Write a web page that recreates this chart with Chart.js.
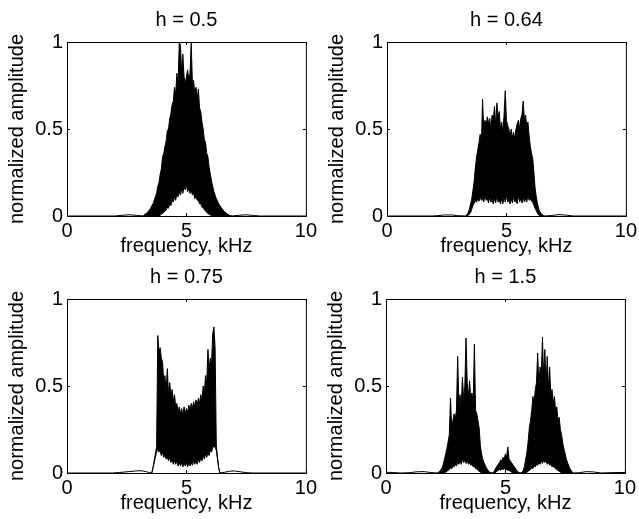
<!DOCTYPE html>
<html lang="en">

<head>
    <meta charset="UTF-8">
    <script src="https://cdn.jsdelivr.net/npm/chart.js"></script>
    <style>
        body { margin: 0; background: #fff; width: 639px; height: 519px; overflow: hidden; position: relative; }
        canvas { position: absolute; }
    </style>
</head>

<body>
    <canvas id="c1" width="320" height="262" style="left:0;top:0"></canvas>
    <canvas id="c2" width="320" height="262" style="left:320px;top:0"></canvas>
    <canvas id="c3" width="320" height="262" style="left:0;top:257px"></canvas>
    <canvas id="c4" width="320" height="262" style="left:319px;top:257px"></canvas>

    <script>
        // axis ticks
        const xTicks = [0, 5, 10];
        const yTicks = [0, 0.5, 1];
        const freqStep = 0.05; // kHz between band samples

        // h = 0.5
        const tailsLeft1 = [[0, 0], [2.0, 0], [2.3, 0.004], [2.6, 0.007], [2.9, 0.004], [3.2, 0]];
        const tailsRight1 = [[6.9, 0], [7.2, 0.004], [7.5, 0.007], [7.8, 0.003], [8.1, 0], [10, 0]];
        const bandStart1 = 3.2;
        const upper1 = [0, 0.01, 0.012, 0.02, 0.025, 0.035, 0.045, 0.06, 0.07, 0.09,
            0.11, 0.13, 0.17, 0.19, 0.24, 0.27, 0.34, 0.36, 0.40, 0.43,
            0.49, 0.50, 0.56, 0.59, 0.64, 0.66, 0.74, 0.70, 0.82, 0.76,
            1.0, 0.98, 0.82, 0.93, 0.80, 0.76, 0.80, 0.84, 0.78, 0.82,
            1.0, 0.76, 0.78, 0.70, 0.74, 0.68, 0.73, 0.62, 0.60, 0.54,
            0.50, 0.44, 0.42, 0.36, 0.34, 0.28, 0.24, 0.20, 0.17, 0.14,
            0.12, 0.10, 0.085, 0.07, 0.06, 0.05, 0.04, 0.032, 0.025, 0.018,
            0.012, 0.008, 0.004, 0.002, 0];
        const lower1 = [0, 0, 0, 0, 0, 0, 0, 0, 0, 0,
            0, 0, 0, 0, 0.005, 0.01, 0.015, 0.02, 0.03, 0.035,
            0.05, 0.045, 0.07, 0.06, 0.09, 0.08, 0.11, 0.09, 0.13, 0.11,
            0.14, 0.12, 0.16, 0.13, 0.17, 0.15, 0.18, 0.14, 0.16, 0.13,
            0.15, 0.12, 0.13, 0.10, 0.11, 0.09, 0.09, 0.07, 0.07, 0.05,
            0.05, 0.035, 0.03, 0.02, 0.015, 0.01, 0.006, 0.003, 0, 0,
            0, 0, 0, 0, 0, 0, 0, 0, 0, 0,
            0, 0, 0, 0, 0];

        // h = 0.64
        const tailsLeft2 = [[0, 0], [1.9, 0], [2.1, 0.002], [2.4, 0.006], [2.7, 0.006], [2.95, 0.002], [3.3, 0]];
        const tailsRight2 = [[6.6, 0], [6.9, 0.003], [7.2, 0.008], [7.5, 0.005], [7.8, 0], [10, 0]];
        const bandStart2 = 3.3;
        const upper2 = [0, 0.01, 0.02, 0.04, 0.07, 0.10, 0.15, 0.20, 0.28, 0.34,
            0.38, 0.42, 0.47, 0.40, 0.67, 0.50, 0.55, 0.52, 0.57, 0.53,
            0.56, 0.50, 0.58, 0.55, 0.63, 0.52, 0.65, 0.57, 0.60, 0.50,
            0.54, 0.48, 0.58, 0.72, 0.55, 0.52, 0.50, 0.46, 0.50, 0.45,
            0.48, 0.44, 0.50, 0.53, 0.55, 0.50, 0.56, 0.58, 0.66, 0.56,
            0.58, 0.52, 0.54, 0.46, 0.40, 0.36, 0.33, 0.25, 0.16, 0.11,
            0.07, 0.04, 0.025, 0.015, 0.008, 0.003, 0];
        const lower2 = [0, 0, 0.005, 0.01, 0.02, 0.04, 0.06, 0.075, 0.085, 0.08,
            0.10, 0.085, 0.11, 0.09, 0.10, 0.08, 0.12, 0.09, 0.10, 0.075,
            0.11, 0.08, 0.09, 0.07, 0.10, 0.075, 0.12, 0.08, 0.09, 0.07,
            0.10, 0.07, 0.11, 0.08, 0.12, 0.08, 0.09, 0.07, 0.10, 0.075,
            0.11, 0.08, 0.09, 0.07, 0.12, 0.08, 0.10, 0.075, 0.11, 0.08,
            0.10, 0.08, 0.12, 0.09, 0.10, 0.085, 0.08, 0.06, 0.045, 0.03,
            0.015, 0.006, 0, 0, 0, 0, 0];

        // h = 0.75
        const tailsLeft3 = [[0, 0], [1.9, 0], [2.2, 0.003], [2.6, 0.008], [2.9, 0.012], [3.1, 0.013], [3.3, 0.008], [3.45, 0.002], [3.55, 0]];
        const tailsRight3 = [[6.4, 0], [6.6, 0.004], [6.8, 0.01], [7.0, 0.012], [7.2, 0.008], [7.5, 0.002], [7.8, 0], [10, 0]];
        const bandStart3 = 3.55;
        const upper3 = [0, 0.03, 0.07, 0.11, 0.15, 0.79, 0.70, 0.72, 0.66, 0.64,
            0.52, 0.56, 0.47, 0.60, 0.45, 0.52, 0.44, 0.48, 0.41, 0.45,
            0.38, 0.40, 0.35, 0.38, 0.34, 0.37, 0.33, 0.38, 0.34, 0.37,
            0.35, 0.39, 0.36, 0.40, 0.37, 0.41, 0.38, 0.42, 0.39, 0.43,
            0.40, 0.45, 0.42, 0.50, 0.46, 0.56, 0.52, 0.71, 0.60, 0.66,
            0.62, 0.80, 0.84, 0.72, 0.16, 0.09, 0.03, 0, 0];
        const lower3 = [0, 0.03, 0.06, 0.09, 0.12, 0.14, 0.12, 0.13, 0.10, 0.12,
            0.09, 0.10, 0.08, 0.09, 0.07, 0.09, 0.06, 0.08, 0.05, 0.07,
            0.05, 0.07, 0.04, 0.06, 0.04, 0.06, 0.035, 0.06, 0.04, 0.06,
            0.035, 0.06, 0.04, 0.06, 0.045, 0.07, 0.05, 0.07, 0.05, 0.08,
            0.06, 0.09, 0.07, 0.10, 0.08, 0.11, 0.09, 0.12, 0.10, 0.13,
            0.12, 0.15, 0.15, 0.15, 0.13, 0.08, 0.03, 0, 0];

        // h = 1.5
        const tailsLeft4 = [[0, 0.004], [0.3, 0.003], [0.6, 0], [1.0, 0.002], [1.3, 0.007], [1.6, 0.008], [1.85, 0.003], [2.15, 0]];
        const tailsRight4 = [[7.85, 0], [8.1, 0.002], [8.4, 0.008], [8.7, 0.006], [9.0, 0], [9.4, 0.002], [10, 0.003]];
        const bandStart4 = 2.15;
        const upper4 = [0, 0.005, 0.01, 0.02, 0.03, 0.05, 0.08, 0.11, 0.14, 0.18,
            0.22, 0.43, 0.26, 0.30, 0.34, 0.31, 0.36, 0.67, 0.40, 0.45,
            0.38, 0.55, 0.42, 0.50, 0.775, 0.52, 0.44, 0.53, 0.42, 0.46,
            0.40, 0.74, 0.36, 0.34, 0.30, 0.26, 0.16, 0.11, 0.08, 0.06,
            0.045, 0.03, 0.02, 0.01, 0.004, 0, 0, 0.005, 0.015, 0.03,
            0.04, 0.05, 0.06, 0.075, 0.07, 0.09, 0.08, 0.11, 0.09, 0.15,
            0.08, 0.07, 0.06, 0.05, 0.04, 0.03, 0.02, 0.01, 0.005, 0,
            0, 0.005, 0.015, 0.04, 0.08, 0.12, 0.18, 0.26, 0.30, 0.36,
            0.44, 0.40, 0.48, 0.52, 0.69, 0.50, 0.61, 0.56, 0.78, 0.54,
            0.71, 0.50, 0.67, 0.48, 0.61, 0.44, 0.48, 0.40, 0.44, 0.36,
            0.38, 0.30, 0.32, 0.25, 0.22, 0.17, 0.14, 0.11, 0.08, 0.06,
            0.04, 0.025, 0.015, 0.005, 0];
        const lower4 = [0, 0, 0, 0, 0, 0, 0, 0.005, 0.01, 0.015,
            0.02, 0.03, 0.025, 0.04, 0.035, 0.05, 0.04, 0.06, 0.05, 0.07,
            0.05, 0.08, 0.06, 0.075, 0.055, 0.07, 0.05, 0.06, 0.045, 0.05,
            0.035, 0.04, 0.025, 0.025, 0.015, 0.01, 0.005, 0, 0, 0,
            0, 0, 0, 0, 0, 0, 0, 0, 0, 0.005,
            0.01, 0.015, 0.02, 0.015, 0.025, 0.02, 0.025, 0.02, 0.02, 0.015,
            0.015, 0.01, 0.005, 0, 0, 0, 0, 0, 0, 0,
            0, 0, 0, 0, 0, 0.005, 0.01, 0.015, 0.02, 0.03,
            0.025, 0.04, 0.035, 0.05, 0.045, 0.06, 0.05, 0.07, 0.055, 0.075,
            0.06, 0.07, 0.05, 0.06, 0.045, 0.05, 0.035, 0.04, 0.03, 0.025,
            0.02, 0.015, 0.01, 0.005, 0, 0, 0, 0, 0, 0,
            0, 0, 0, 0, 0];

        Chart.defaults.font.family = "'Liberation Sans', Arial, sans-serif";
        Chart.defaults.font.size = 20;
        Chart.defaults.color = '#000';

        function pairPoints(pairs) {
            return pairs.map(([x, y]) => ({ x: x, y: y }));
        }

        function bandPoints(start, values) {
            return values.map((v, i) => ({ x: +(start + i * freqStep).toFixed(2), y: v }));
        }

        // matlab style box with inward ticks
        const boxPlugin = {
            id: 'box',
            afterDraw(chart) {
                const { ctx, chartArea: a, scales: { x, y } } = chart;
                ctx.save();
                ctx.strokeStyle = '#000';
                ctx.lineWidth = 1;
                ctx.strokeRect(a.left + 0.5, a.top + 0.5, a.right - a.left, a.bottom - a.top);
                ctx.beginPath();
                xTicks.forEach(v => {
                    const px = Math.round(x.getPixelForValue(v)) + 0.5;
                    ctx.moveTo(px, a.bottom); ctx.lineTo(px, a.bottom - 3);
                    ctx.moveTo(px, a.top); ctx.lineTo(px, a.top + 3);
                });
                yTicks.forEach(v => {
                    const py = Math.round(y.getPixelForValue(v)) + 0.5;
                    ctx.moveTo(a.left, py); ctx.lineTo(a.left + 3, py);
                    ctx.moveTo(a.right, py); ctx.lineTo(a.right - 3, py);
                });
                ctx.stroke();
                ctx.restore();
            }
        };

        function makePanel(id, title, tailsLeft, tailsRight, bandStart, upper, lower, padRight) {
            const line = { borderColor: '#000', borderWidth: 1, pointRadius: 0, tension: 0 };
            new Chart(document.getElementById(id), {
                type: 'line',
                data: {
                    datasets: [
                        { ...line, data: pairPoints(tailsLeft), fill: false },
                        { ...line, data: pairPoints(tailsRight), fill: false },
                        { ...line, data: bandPoints(bandStart, lower), fill: false },
                        { ...line, data: bandPoints(bandStart, upper), fill: '-1', backgroundColor: '#000' }
                    ]
                },
                options: {
                    responsive: false,
                    animation: false,
                    devicePixelRatio: 1,
                    layout: { padding: { left: 0, right: padRight, top: 0, bottom: 0 } },
                    plugins: {
                        legend: { display: false },
                        tooltip: { enabled: false },
                        title: {
                            display: true,
                            text: title,
                            fullSize: false,
                            font: { size: 20, weight: 'normal' },
                            padding: { top: 8, bottom: 10 }
                        }
                    },
                    scales: {
                        x: {
                            type: 'linear', min: 0, max: 10,
                            afterFit(s) { s.height = 46; },
                            grid: { display: false, drawTicks: false },
                            border: { display: false },
                            ticks: { stepSize: 5, padding: 3, maxRotation: 0, callback: v => String(v) },
                            title: { display: true, text: 'frequency, kHz', padding: { top: 0, bottom: 4 } }
                        },
                        y: {
                            min: 0, max: 1,
                            afterFit(s) { s.width = 67; },
                            grid: { display: false, drawTicks: false },
                            border: { display: false },
                            ticks: { stepSize: 0.5, padding: 4, callback: v => String(v) },
                            title: { display: true, text: 'normalized amplitude', padding: { top: 5, bottom: 0 } }
                        }
                    }
                },
                plugins: [boxPlugin]
            });
        }

        makePanel('c1', 'h = 0.5', tailsLeft1, tailsRight1, bandStart1, upper1, lower1, 10);
        makePanel('c2', 'h = 0.64', tailsLeft2, tailsRight2, bandStart2, upper2, lower2, 11);
        makePanel('c3', 'h = 0.75', tailsLeft3, tailsRight3, bandStart3, upper3, lower3, 10);
        makePanel('c4', 'h = 1.5', tailsLeft4, tailsRight4, bandStart4, upper4, lower4, 11);
    </script>
</body>

</html>
